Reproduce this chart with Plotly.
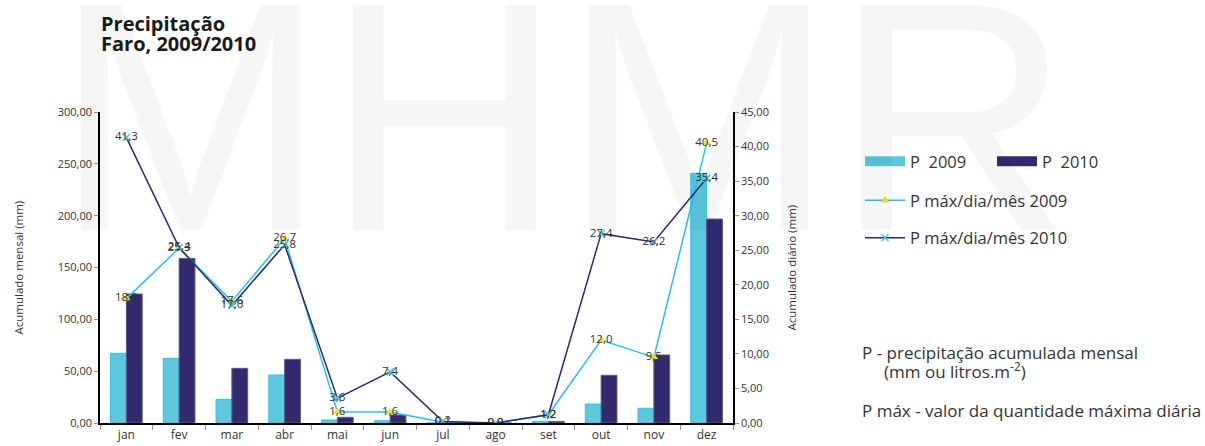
import plotly.graph_objects as go

# monthly data, Faro 2009/2010
meses = ["jan", "fev", "mar", "abr", "mai", "jun", "jul", "ago", "set", "out", "nov", "dez"]
p_2009 = [67.2, 62.4, 22.8, 46.3, 2.9, 2.2, 0.1, 0.0, 1.6, 18.3, 14.2, 240.8]
p_2010 = [124.4, 158.8, 52.7, 61.4, 5.5, 7.7, 0.3, 0.0, 1.5, 46.0, 65.6, 196.7]
pmax_2009 = [18.0, 25.3, 17.6, 26.7, 1.6, 1.6, 0.1, 0.0, 1.2, 12.0, 9.5, 40.5]
pmax_2010 = [41.3, 25.4, 17.0, 25.8, 3.6, 7.4, 0.2, 0.0, 1.2, 27.4, 26.2, 35.4]

W, H = 1205, 446
L, R, T, B = 100, 733, 112, 423
FONT = "'Open Sans', Roboto, sans-serif"
C09, C09_EDGE = "#5bc8dc", "#2ec4ef"
C10, C10_EDGE = "#312b6e", "#5c5890"


def px(x):
    return (x - L) / (R - L)


def py(y):
    return (B - y) / (B - T)


fig = go.Figure()

fig.add_trace(go.Bar(
    x=meses, y=p_2009, name="P\u00a0 2009", showlegend=False,
    marker=dict(color=C09, line=dict(color=C09_EDGE, width=1)),
))
fig.add_trace(go.Bar(
    x=meses, y=p_2010, name="P\u00a0 2010", showlegend=False,
    marker=dict(color=C10, line=dict(color=C10_EDGE, width=1)),
))

# legend entries for the bars (wide rectangles like the original)
fig.add_trace(go.Scatter(x=[None], y=[None], mode="lines", name="P\u00a0 2009",
                         line=dict(color=C09, width=10), legend="legend"))
fig.add_trace(go.Scatter(x=[None], y=[None], mode="lines", name="P\u00a0 2010",
                         line=dict(color=C10, width=10), legend="legend"))

fig.add_trace(go.Scatter(
    x=meses, y=pmax_2009, yaxis="y2", name="P máx/dia/mês 2009",
    mode="lines+markers+text",
    line=dict(color="#22c3f2", width=1.5),
    marker=dict(symbol="triangle-up", size=8, color="#ece42a"),
    text=pmax_2009, texttemplate="%{y:.1f}", textposition="middle center",
    textfont=dict(size=11.5, color="#333333", family=FONT),
    legend="legend2", legendgroup="a",
))
fig.add_trace(go.Scatter(
    x=meses, y=pmax_2010, yaxis="y2", name="P máx/dia/mês 2010",
    mode="lines+markers+text",
    line=dict(color="#2e2a6e", width=1.5),
    marker=dict(symbol="x-thin", size=7, line=dict(color="#4cc6e0", width=1.5)),
    text=pmax_2010, texttemplate="%{y:.1f}", textposition="middle center",
    textfont=dict(size=11.5, color="#333333", family=FONT),
    legend="legend2", legendgroup="b",
))

annotations = [
    # faint background watermark
    dict(text="MHMR", x=px(52), y=py(301), xanchor="left", yanchor="bottom",
         font=dict(family="Liberation Sans, Arial", size=327, color="rgba(0,0,0,0.035)")),
    dict(text="<b>Precipitação</b>", x=px(99), y=py(8), xanchor="left", yanchor="top",
         font=dict(family=FONT, size=20, color="#1a1a1a")),
    dict(text="<b>Faro, 2009/2010</b>", x=px(99), y=py(28), xanchor="left", yanchor="top",
         font=dict(family=FONT, size=20, color="#1a1a1a")),
    dict(text="Acumulado mensal (mm)", x=px(18), y=0.5, textangle=-90,
         xanchor="center", yanchor="middle",
         font=dict(family=FONT, size=11.5, color="#333333")),
    dict(text="Acumulado diário (mm)", x=px(791), y=0.5, textangle=-90,
         xanchor="center", yanchor="middle",
         font=dict(family=FONT, size=11.5, color="#333333")),
    dict(text="P - precipitação acumulada mensal", x=px(860), y=py(352),
         xanchor="left", yanchor="middle", font=dict(family=FONT, size=17, color="#333333")),
    dict(text="(mm ou litros.m<sup>-2</sup>)", x=px(882), y=py(370),
         xanchor="left", yanchor="middle", font=dict(family=FONT, size=17, color="#333333")),
    dict(text="P máx - valor da quantidade máxima diária", x=px(860), y=py(410),
         xanchor="left", yanchor="middle", font=dict(family=FONT, size=17, color="#333333")),
]
for a in annotations:
    a.update(xref="paper", yref="paper", showarrow=False)

fig.update_layout(
    width=W, height=H,
    margin=dict(l=L, r=W - R, t=T, b=H - B, autoexpand=False),
    paper_bgcolor="white", plot_bgcolor="rgba(0,0,0,0)",
    separators=", ",
    barmode="group", bargap=0.4, bargroupgap=0,
    font=dict(family=FONT, size=11, color="#333333"),
    xaxis=dict(
        showline=True, linecolor="black", linewidth=1.5,
        ticks="outside", tickson="boundaries", ticklen=5, tickcolor="#999999",
        tickfont=dict(size=12), showgrid=False, range=[-0.5, 11.5],
    ),
    yaxis=dict(
        range=[0, 300], dtick=50, tickformat=".2f",
        showline=True, linecolor="black", linewidth=1.5,
        ticks="outside", ticklen=4, tickcolor="#999999",
        showgrid=False, zeroline=False,
    ),
    yaxis2=dict(
        range=[0, 45], dtick=5, tickformat=".2f", overlaying="y", side="right",
        showline=True, linecolor="black", linewidth=1.5,
        ticks="outside", ticklen=4, tickcolor="#999999",
        showgrid=False, zeroline=False,
    ),
    legend=dict(
        orientation="h", x=px(860), y=py(144), xanchor="left", yanchor="top",
        entrywidth=77, itemwidth=40, font=dict(size=16.5, color="#333333"),
        bgcolor="rgba(0,0,0,0)",
    ),
    legend2=dict(
        orientation="v", x=px(860), y=py(183), xanchor="left", yanchor="top",
        itemwidth=40, tracegroupgap=13, font=dict(size=16.5, color="#333333"),
        bgcolor="rgba(0,0,0,0)",
    ),
    annotations=annotations,
)

fig.write_html("out.html", config={"displayModeBar": False},
               post_script="document.body.style.margin='0';")
